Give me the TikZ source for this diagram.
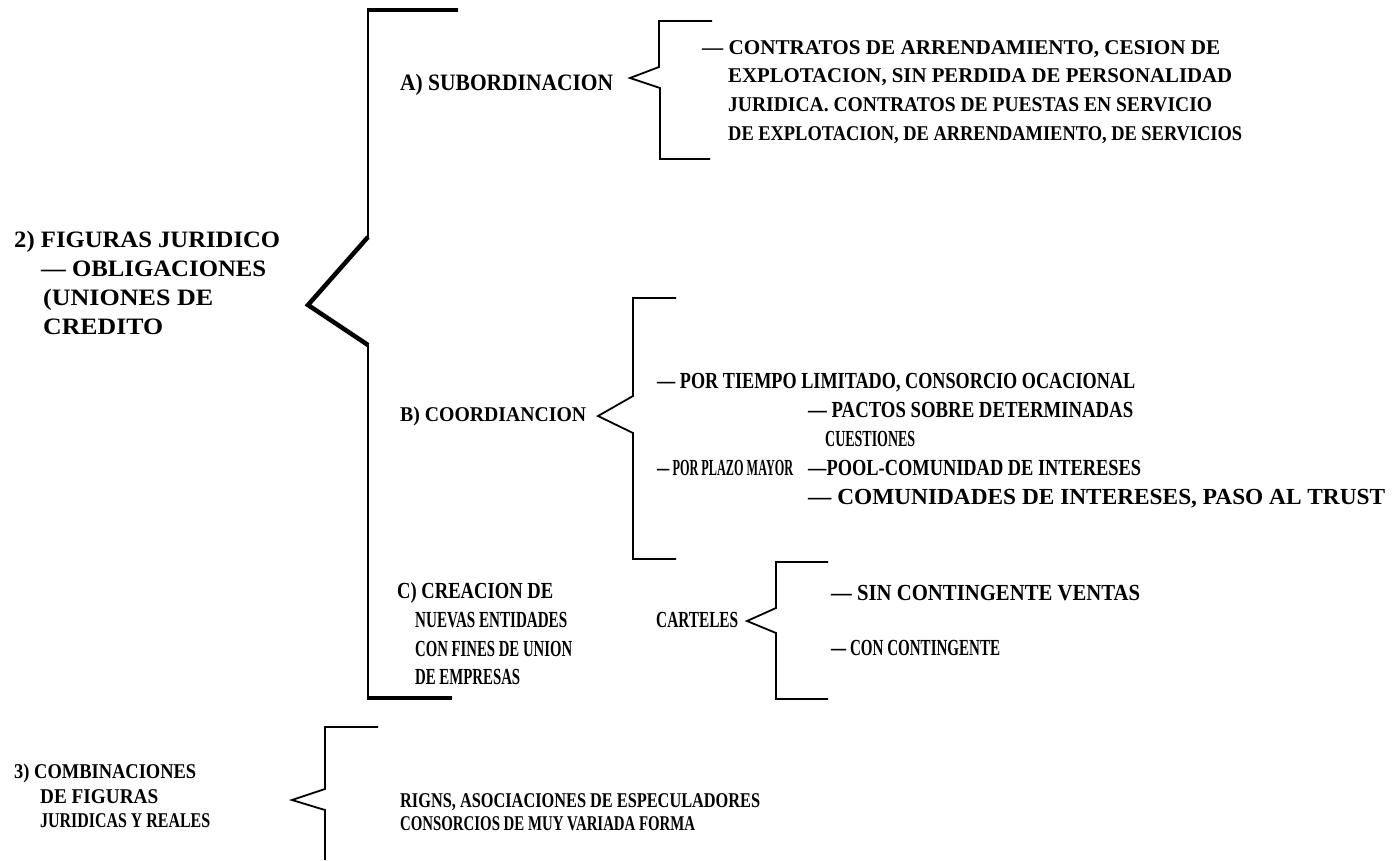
\documentclass[tikz,border=0pt]{standalone}
\usepackage{fontspec}
\setmainfont{Liberation Serif}
\usepackage{graphicx}
\newcommand\fitw[2]{\resizebox{#1pt}{\height}{#2}}
\begin{document}
\begin{tikzpicture}[x=1pt,y=-1pt,
  lbl/.style={anchor=west,inner sep=0pt,text depth=0pt,text height=15.5pt,font=\bfseries\fontsize{23.5}{23.5}\selectfont},
  itm/.style={anchor=west,inner sep=0pt,text depth=0pt,text height=14pt,font=\bfseries\fontsize{21}{21}\selectfont},
  tall/.style={anchor=west,inner sep=0pt,text depth=0pt,text height=15pt,font=\bfseries\fontsize{23}{23}\selectfont},
  brk/.style={line width=1.8pt,line join=miter},
  thk/.style={line width=4.5pt}]
\useasboundingbox (0,0) rectangle (1396,860);

% ---- main bracket
\coordinate (b2top) at (458,10);
\coordinate (b2tip) at (308,305);
\coordinate (b2bot) at (452,698);
\draw[brk] (b2top) -- (368,10) -- (368,237) -- (b2tip) -- (368,345) -- (368,698) -- (b2bot);
\draw[thk] (b2top) -- (367,10);
\draw[thk,line join=miter] (368,237) -- (b2tip) -- (368,345);
\draw[thk] (367,698) -- (b2bot);

% ---- left label 2
\node[lbl] (l2a) at (14,240) {\fitw{266}{2) FIGURAS JURIDICO}};
\node[lbl] (l2b) at (41,269) {\fitw{225}{— OBLIGACIONES}};
\node[lbl] (l2c) at (43,298) {\fitw{170}{(UNIONES DE}};
\node[lbl] (l2d) at (43,327) {\fitw{120}{CREDITO}};

% ---- A
\node[lbl] (la) at (400,83) {\fitw{213}{A) SUBORDINACION}};
\coordinate (baTip) at (630,78);
\draw[brk] (712,21) -- (659,21) -- (659,67) -- (baTip) -- (660,88) -- (660,159) -- (710,159);
\node[itm] (a1) at (702,47) {\fitw{518}{— CONTRATOS DE ARRENDAMIENTO, CESION DE}};
\node[itm] (a2) at (728,75) {\fitw{504}{EXPLOTACION, SIN PERDIDA DE PERSONALIDAD}};
\node[itm] (a3) at (728,104) {\fitw{484}{JURIDICA. CONTRATOS DE PUESTAS EN SERVICIO}};
\node[itm] (a4) at (728,133) {\fitw{514}{DE EXPLOTACION, DE ARRENDAMIENTO, DE SERVICIOS}};

% ---- B
\node[itm] (lb) at (400,414) {\fitw{186}{B) COORDIANCION}};
\coordinate (bbTip) at (598,416);
\draw[brk] (676,298) -- (633,298) -- (633,396) -- (bbTip) -- (633,433) -- (633,559) -- (676,559);
\node[tall] (b1) at (657,381) {\fitw{478}{— POR TIEMPO LIMITADO, CONSORCIO OCACIONAL}};
\node[tall] (b2) at (808,410) {\fitw{325}{— PACTOS SOBRE DETERMINADAS}};
\node[tall] (b3) at (825,439) {\fitw{90}{CUESTIONES}};
\node[tall] (b4) at (657,468) {\fitw{136}{— POR PLAZO MAYOR}};
\node[tall] (b5) at (808,468) {\fitw{333}{—POOL-COMUNIDAD DE INTERESES}};
\node[tall] (b6) at (808,497) {\fitw{577}{— COMUNIDADES DE INTERESES, PASO AL TRUST}};

% ---- C
\node[tall] (c1) at (397,591) {\fitw{156}{C) CREACION DE}};
\node[tall] (c2) at (415,620) {\fitw{152}{NUEVAS ENTIDADES}};
\node[tall] (c3) at (415,649) {\fitw{157}{CON FINES DE UNION}};
\node[tall] (c4) at (415,677) {\fitw{105}{DE EMPRESAS}};
\node[tall] (cart) at (656,620) {\fitw{82}{CARTELES}};
\coordinate (bcTip) at (747,621);
\draw[brk] (828,562) -- (776,562) -- (776,608) -- (bcTip) -- (776,633) -- (776,699) -- (828,699);
\node[tall] (cs1) at (831,593) {\fitw{309}{— SIN CONTINGENTE VENTAS}};
\node[tall] (cs2) at (831,648) {\fitw{169}{— CON CONTINGENTE}};

% ---- 3
\node[itm] (l3a) at (14,771) {\fitw{182}{3) COMBINACIONES}};
\node[itm] (l3b) at (40,796) {\fitw{118}{DE FIGURAS}};
\node[itm] (l3c) at (40,820) {\fitw{170}{JURIDICAS Y REALES}};
\coordinate (b3Tip) at (292,800);
\draw[brk] (378,727) -- (325,727) -- (325,789) -- (b3Tip) -- (325,810) -- (325,860);
\node[itm] (r1) at (400,800) {\fitw{360}{RIGNS, ASOCIACIONES DE ESPECULADORES}};
\node[itm] (r2) at (400,823) {\fitw{295}{CONSORCIOS DE MUY VARIADA FORMA}};
\end{tikzpicture}
\end{document}
